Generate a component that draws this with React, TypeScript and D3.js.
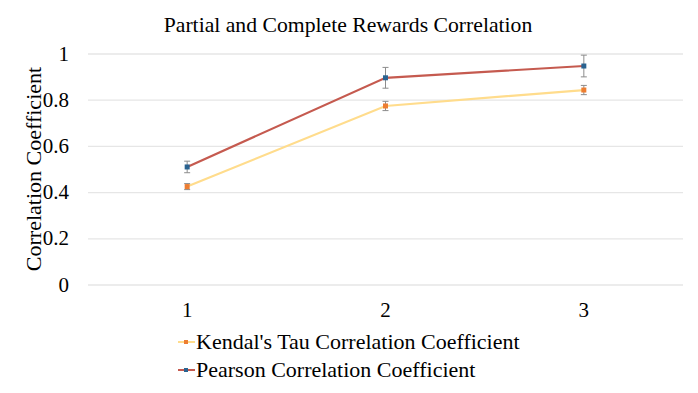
import React, { useRef, useEffect } from 'react';
import * as d3 from 'd3';

const categories = ['1', '2', '3'];
const kendallValues = [0.426, 0.775, 0.844];
const kendallErrors = [0.013, 0.02, 0.02];
const pearsonValues = [0.511, 0.897, 0.948];
const pearsonErrors = [0.025, 0.045, 0.047];
const yTicks = [0, 0.2, 0.4, 0.6, 0.8, 1];
const seriesNames = ["Kendal's Tau Correlation Coefficient", 'Pearson Correlation Coefficient'];

export default function App() {
  const ref = useRef<SVGSVGElement>(null);

  useEffect(() => {
    if (!ref.current) return;
    const svg = d3.select(ref.current);
    svg.selectAll('*').remove();

    const left = 88, right = 683, top = 54, bottom = 285;

    const x = d3.scaleBand().domain(categories).range([left, right]);
    const y = d3.scaleLinear().domain([0, 1]).range([bottom, top]);
    const cx = (c: string) => (x(c) as number) + x.bandwidth() / 2;

    // gridlines
    svg.append('g')
      .selectAll('line')
      .data(yTicks)
      .enter()
      .append('line')
      .attr('x1', left)
      .attr('x2', right)
      .attr('y1', d => y(d))
      .attr('y2', d => y(d))
      .attr('stroke', '#e6e6e6')
      .attr('stroke-width', 1.3);

    // y tick labels
    svg.append('g')
      .selectAll('text')
      .data(yTicks)
      .enter()
      .append('text')
      .attr('x', 69)
      .attr('y', d => y(d) + 6.5)
      .attr('text-anchor', 'end')
      .style('font-size', '21px')
      .text(d => (d === 0 || d === 1 ? String(d) : d.toFixed(1)));

    // x tick labels
    svg.append('g')
      .selectAll('text')
      .data(categories)
      .enter()
      .append('text')
      .attr('x', d => cx(d))
      .attr('y', 317)
      .attr('text-anchor', 'middle')
      .style('font-size', '21px')
      .text(d => d);

    const series = [
      { values: kendallValues, errors: kendallErrors, line: '#ffdc8c', marker: '#ed7d31' },
      { values: pearsonValues, errors: pearsonErrors, line: '#c55a4f', marker: '#2a6390' },
    ];

    const lineGen = d3.line<number>()
      .x((_, i) => cx(categories[i]))
      .y(d => y(d));

    series.forEach(s => {
      svg.append('path')
        .attr('d', lineGen(s.values))
        .attr('fill', 'none')
        .attr('stroke', s.line)
        .attr('stroke-width', 2.2);

      const eb = svg.append('g');
      s.values.forEach((v, i) => {
        const px = cx(categories[i]);
        const e = s.errors[i];
        eb.append('line')
          .attr('x1', px).attr('x2', px)
          .attr('y1', y(v + e)).attr('y2', y(v - e))
          .attr('stroke', '#8c8c8c').attr('stroke-width', 1);
        [v + e, v - e].forEach(b => {
          eb.append('line')
            .attr('x1', px - 3).attr('x2', px + 3)
            .attr('y1', y(b)).attr('y2', y(b))
            .attr('stroke', '#8c8c8c').attr('stroke-width', 1);
        });
      });

      svg.append('g')
        .selectAll('rect')
        .data(s.values)
        .enter()
        .append('rect')
        .attr('x', (_, i) => cx(categories[i]) - 2.5)
        .attr('y', d => y(d) - 2.5)
        .attr('width', 5)
        .attr('height', 5)
        .attr('fill', s.marker);
    });

    // title
    svg.append('text')
      .attr('x', 348)
      .attr('y', 32)
      .attr('text-anchor', 'middle')
      .style('font-size', '21.7px')
      .text('Partial and Complete Rewards Correlation');

    // y axis label
    svg.append('text')
      .attr('transform', 'translate(41,169) rotate(-90)')
      .attr('text-anchor', 'middle')
      .style('font-size', '22px')
      .text('Correlation Coefficient');

    // legend
    const legend = svg.append('g');
    series.forEach((s, i) => {
      const ly = 342 + i * 28;
      legend.append('line')
        .attr('x1', 178).attr('x2', 195)
        .attr('y1', ly).attr('y2', ly)
        .attr('stroke', s.line).attr('stroke-width', 2);
      legend.append('rect')
        .attr('x', 184).attr('y', ly - 2)
        .attr('width', 4).attr('height', 4)
        .attr('fill', s.marker);
      legend.append('text')
        .attr('x', 196)
        .attr('y', ly + 7)
        .style('font-size', '22px')
        .text(seriesNames[i]);
    });
  }, []);

  return (
    <svg
      ref={ref}
      width={698}
      height={393}
      style={{
        position: 'absolute',
        left: 0,
        top: 0,
        background: '#fff',
        fontFamily: "'Liberation Serif', 'Times New Roman', serif",
      }}
    />
  );
}
